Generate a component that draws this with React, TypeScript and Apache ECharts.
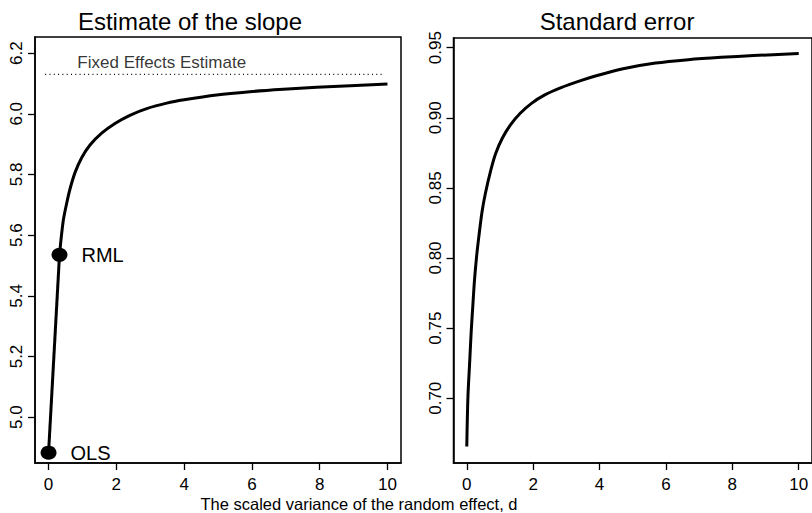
import React, { useEffect, useRef } from "react";
import * as echarts from "echarts";

// ---- data ----
const D_SLOPE = [0, 0.323, 0.43, 0.535, 0.633, 0.78, 0.977, 1.223, 1.567, 1.96, 2.4, 2.896, 3.486, 4.0, 4.96, 5.94, 6.93, 7.91, 8.9, 10];
const SLOPE = [4.883, 5.535, 5.645, 5.705, 5.752, 5.806, 5.855, 5.897, 5.936, 5.968, 5.995, 6.017, 6.035, 6.046, 6.062, 6.0727, 6.0806, 6.0872, 6.0925, 6.098];

const D_SE = [0, 0.035, 0.09, 0.136, 0.185, 0.233, 0.3, 0.37, 0.46, 0.56, 0.726, 0.873, 1.07, 1.316, 1.61, 1.95, 2.35, 2.84, 3.43, 3.9, 4.71, 5.69, 6.67, 7.66, 8.64, 10];
const SE = [0.6655, 0.7011, 0.727, 0.7487, 0.767, 0.7844, 0.802, 0.8165, 0.833, 0.846, 0.8628, 0.8747, 0.8854, 0.8949, 0.9032, 0.9103, 0.9163, 0.9215, 0.9265, 0.93, 0.935, 0.939, 0.9414, 0.9431, 0.9444, 0.9458];

const POINT_NAMES = ["OLS", "RML"];
const POINT_D = [0, 0.323];
const POINT_SLOPE = [4.883, 5.535];

const FE_ESTIMATE = 6.13;
const FE_LINE_D = [-0.1, 9.9];
const FE_LABEL = "Fixed Effects Estimate";
const FE_LABEL_D = 0.85;

const X_TICKS = [0, 2, 4, 6, 8, 10];
const SLOPE_TICKS = [5.0, 5.2, 5.4, 5.6, 5.8, 6.0, 6.2];
const SE_TICKS = [0.7, 0.75, 0.8, 0.85, 0.9, 0.95];

const TITLE_LEFT = "Estimate of the slope";
const TITLE_RIGHT = "Standard error";
const X_NAME = "The scaled variance of the random effect, d";

const FONT = '"Liberation Sans", Arial, Helvetica, sans-serif';

export default function App() {
  const ref = useRef<HTMLDivElement>(null);
  useEffect(() => {
    if (!ref.current) return;
    const chart = echarts.init(ref.current, undefined, { renderer: "svg" });
    const black = "#000";
    const xAxisBase = (gridIndex: number) => ({
      gridIndex,
      type: "value",
      min: -0.4,
      max: 10.4,
      axisLine: { show: true, onZero: false, lineStyle: { color: black, width: 1.5 } },
      splitLine: { show: false },
      axisTick: { show: true, inside: false, customValues: X_TICKS, length: 7, lineStyle: { color: black, width: 1.3 } },
      axisLabel: { customValues: X_TICKS, fontSize: 17, color: black, fontFamily: FONT, margin: 13 },
    });
    const yAxisBase = (gridIndex: number, min: number, max: number, ticks: number[], dec: number) => ({
      gridIndex,
      type: "value",
      min,
      max,
      axisLine: { show: true, onZero: false, lineStyle: { color: black, width: 1.5 } },
      splitLine: { show: false },
      axisTick: { show: true, inside: false, customValues: ticks, length: 7, lineStyle: { color: black, width: 1.3 } },
      axisLabel: {
        customValues: ticks,
        fontSize: 17,
        color: black,
        fontFamily: FONT,
        rotate: 90,
        margin: 10,
        formatter: (v: number) => v.toFixed(dec),
      },
    });
    chart.setOption({
      animation: false,
      backgroundColor: "#fff",
      grid: [
        { left: 35, top: 37, width: 366, height: 426, show: true, borderColor: black, borderWidth: 1.5, backgroundColor: "transparent" },
        { left: 453.5, top: 38, width: 366, height: 425, show: true, borderColor: black, borderWidth: 1.5, backgroundColor: "transparent" },
      ],
      xAxis: [xAxisBase(0), xAxisBase(1)],
      yAxis: [
        yAxisBase(0, 4.849, 6.253, SLOPE_TICKS, 1),
        yAxisBase(1, 0.6538, 0.9569, SE_TICKS, 2),
      ],
      series: [
        {
          type: "line",
          xAxisIndex: 0,
          yAxisIndex: 0,
          data: FE_LINE_D.map((d) => [d, FE_ESTIMATE]),
          symbol: "none",
          lineStyle: { color: black, width: 1.3, type: [1, 3.3] },
          silent: true,
        },
        {
          type: "scatter",
          xAxisIndex: 0,
          yAxisIndex: 0,
          data: [[FE_LABEL_D, FE_ESTIMATE]],
          symbolSize: 0,
          label: {
            show: true,
            formatter: FE_LABEL,
            position: [0, -12],
            align: "left",
            verticalAlign: "middle",
            fontSize: 17,
            color: black,
            fontFamily: FONT,
          },
        },
        {
          type: "line",
          xAxisIndex: 0,
          yAxisIndex: 0,
          data: D_SLOPE.slice(0, 2).map((d, i) => [d, SLOPE[i]]),
          symbol: "none",
          lineStyle: { color: black, width: 3 },
        },
        {
          type: "line",
          xAxisIndex: 0,
          yAxisIndex: 0,
          data: D_SLOPE.slice(1).map((d, i) => [d, SLOPE[i + 1]]),
          symbol: "none",
          smooth: 0.3,
          lineStyle: { color: black, width: 3 },
        },
        {
          type: "scatter",
          xAxisIndex: 0,
          yAxisIndex: 0,
          data: POINT_D.map((d, i) => ({ value: [d, POINT_SLOPE[i]], name: POINT_NAMES[i] })),
          symbol: "circle",
          symbolSize: [16, 14],
          itemStyle: { color: black, opacity: 1 },
          label: { show: true, formatter: "{b}", position: "right", distance: 14, fontSize: 20, color: black, fontFamily: FONT },
        },
        {
          type: "line",
          xAxisIndex: 1,
          yAxisIndex: 1,
          data: D_SE.map((d, i) => [d, SE[i]]),
          symbol: "none",
          smooth: 0.3,
          lineStyle: { color: black, width: 3 },
        },
      ],
      graphic: [
        { type: "text", x: 190, y: 21, style: { text: TITLE_LEFT, fontSize: 24, fontFamily: FONT, fill: black, textAlign: "center", textVerticalAlign: "middle" } },
        { type: "text", x: 617, y: 21, style: { text: TITLE_RIGHT, fontSize: 24, fontFamily: FONT, fill: black, textAlign: "center", textVerticalAlign: "middle" } },
        { type: "text", x: 359, y: 504, style: { text: X_NAME, fontSize: 16.5, fontFamily: FONT, fill: black, textAlign: "center", textVerticalAlign: "middle" } },
      ],
    });
    return () => chart.dispose();
  }, []);
  return <div ref={ref} style={{ position: "fixed", left: 0, top: 0, width: 812, height: 513 }} />;
}
